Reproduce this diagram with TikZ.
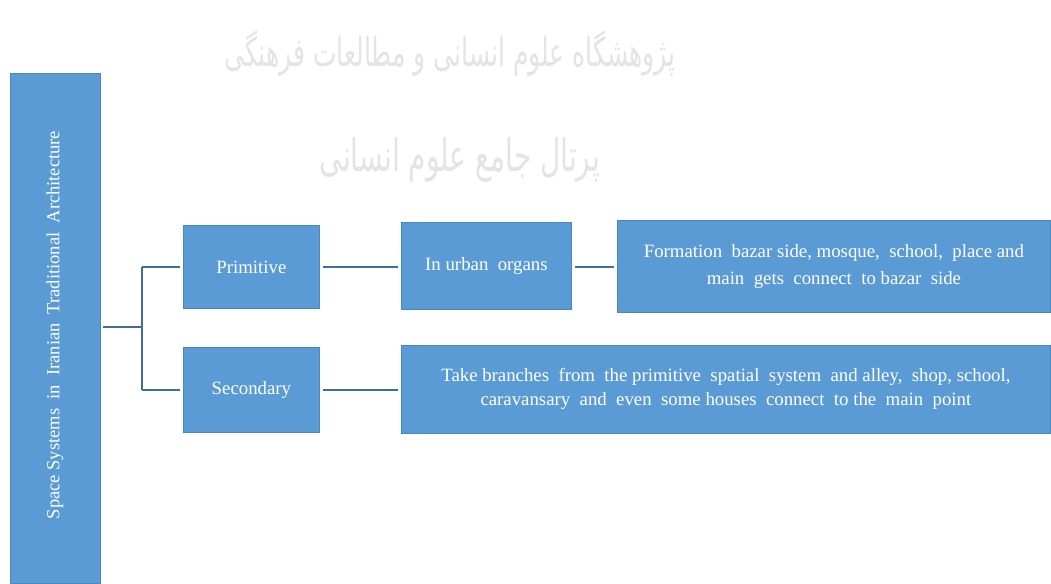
\documentclass[tikz,border=0pt]{standalone}
\usepackage{fontspec}
\usepackage{graphicx}
\setmainfont{Liberation Serif}
\newfontfamily\arabicfont[Script=Arabic]{DejaVu Sans}
\TeXXeTstate=1
\definecolor{boxblue}{HTML}{5B9BD5}
\definecolor{boxedge}{HTML}{4A88C2}
\definecolor{linkblue}{HTML}{3E6E9E}
\definecolor{wmark}{HTML}{E4E4E4}
\begin{document}
\begin{tikzpicture}[x=1pt,y=-1pt,
  bluebox/.style={draw=boxedge,line width=0.8pt,fill=boxblue,text=white,inner sep=0pt,anchor=north west,align=center,font=\fontsize{18.8}{27}\selectfont},
  link/.style={draw=linkblue,line width=2pt},
  wm/.style={text=wmark,inner sep=0pt}]
\useasboundingbox (0,0) rectangle (1051,583);
% watermark
\node[wm] (w1) at (450,53) {\scalebox{1}[1.6]{\arabicfont\fontsize{25}{30}\selectfont\beginR پژوهشگاه علوم انسانی و مطالعات فرهنگی\endR}};
\node[wm] (w2) at (460,160) {\scalebox{1}[1.6]{\arabicfont\fontsize{28}{32}\selectfont\beginR پرتال جامع علوم انسانی\endR}};
% boxes
\node[bluebox,minimum width=90,minimum height=510] (root) at (10,73) {};
\node[text=white,rotate=90,font=\fontsize{18.5}{22}\selectfont] (roottxt) at (55,325) {Space Systems\ \ in\ \ Iranian\ \ Traditional\ \ Architecture};
\node[bluebox,minimum width=136,minimum height=83] (prim) at (183,225) {Primitive};
\node[bluebox,minimum width=136,minimum height=85] (sec) at (183,347) {Secondary};
\node[bluebox,minimum width=170,minimum height=87] (urban) at (401,222) {In urban\ \ organs};
\node[bluebox,minimum width=433,minimum height=92] (form) at (617,220) {Formation\ \ bazar side,\ mosque,\ \ school,\ \ place and\\main\ \ gets\ \ connect\ \ to bazar\ \ side};
\node[bluebox,minimum width=649,minimum height=88,font=\fontsize{18.8}{24}\selectfont] (take) at (401,345) {Take branches\ \ from\ \ the primitive\ \ spatial\ \ system\ \ and alley,\ \ shop,\ school,\\caravansary\ \ and\ \ even\ \ some houses\ \ connect\ \ to the\ \ main\ \ point};
% connectors
\coordinate (j) at (142,327);
\draw[link,shorten <=2pt] (root.east |- j) -- (j);
\draw[link,shorten >=3pt] (j |- prim.west) -- (prim.west);
\draw[link,shorten >=3pt] (j |- sec.west) -- (sec.west);
\draw[link] (j |- prim.west) -- (j |- sec.west);
\draw[link,shorten <=3pt,shorten >=3pt] (prim.east) -- (urban.west |- prim.east);
\draw[link,shorten <=3pt,shorten >=3pt] (urban.east |- prim.east) -- (form.west |- prim.east);
\draw[link,shorten <=3pt,shorten >=3pt] (sec.east) -- (take.west |- sec.east);
\end{tikzpicture}
\end{document}
